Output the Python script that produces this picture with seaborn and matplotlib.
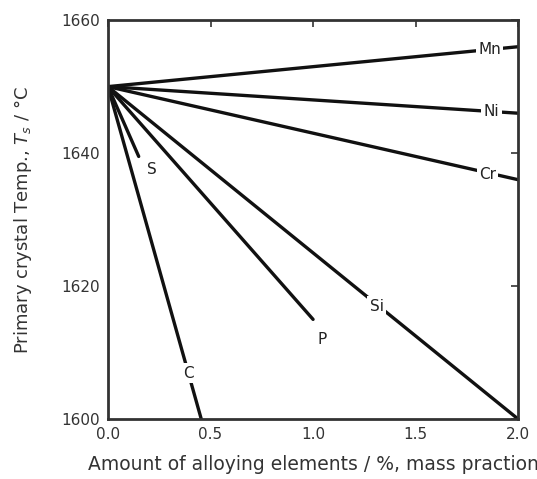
import matplotlib
matplotlib.use("Agg")
import matplotlib.pyplot as plt
import seaborn as sns
import pandas as pd

elements = ["Mn", "Ni", "Cr", "Si", "P", "S", "C"]
x_start = [0.0, 0.0, 0.0, 0.0, 0.0, 0.0, 0.0]
y_start = [1650, 1650, 1650, 1650, 1650, 1650, 1650]
x_end = [2.0, 2.0, 2.0, 2.0, 1.0, 0.15, 0.455]
y_end = [1656, 1646, 1636, 1600, 1615, 1639.5, 1600]
label_x = [1.86, 1.87, 1.85, 1.31, 1.045, 0.215, 0.39]
label_y = [1655.6, 1646.3, 1636.8, 1617.0, 1612.0, 1637.5, 1606.9]
x_ticks = [0.0, 0.5, 1.0, 1.5, 2.0]
x_ticklabels = ["0.0", "0.5", "1.0", "1.5", "2.0"]
y_ticks = [1600, 1620, 1640, 1660]

rows = []
for e, xs, ys, xe, ye in zip(elements, x_start, y_start, x_end, y_end):
    rows.append({"element": e, "x": xs, "y": ys})
    rows.append({"element": e, "x": xe, "y": ye})
df = pd.DataFrame(rows)

sns.set_theme(style="white")
plt.rcParams["font.family"] = ["DejaVu Sans"]

fig = plt.figure(figsize=(5.37, 4.79), dpi=100)
ax = fig.add_axes([0.201, 0.125, 0.764, 0.833])

sns.lineplot(data=df, x="x", y="y", hue="element", units="element", estimator=None,
             palette=["#111111"] * len(elements), legend=False, linewidth=2.4, ax=ax,
             sort=False)

for e, lx, ly in zip(elements, label_x, label_y):
    ax.text(lx, ly, e, ha="center", va="center", fontsize=11, color="#222222",
            bbox=dict(boxstyle="square,pad=0.15", fc="white", ec="none"))

ax.set_xlim(0, 2.0)
ax.set_ylim(1600, 1660)
ax.set_xticks(x_ticks)
ax.set_xticklabels(x_ticklabels)
ax.set_yticks(y_ticks)
ax.tick_params(direction="in", length=5, width=1.2, top=True, right=True,
               labelsize=11, colors="#333333", labelcolor="#333333", pad=6)
for s in ax.spines.values():
    s.set_linewidth(2.0)
    s.set_color("#333333")

ax.set_xlabel("Amount of alloying elements / %, mass praction", fontsize=13.5,
              color="#333333", labelpad=9)
ax.set_ylabel(r"Primary crystal Temp., $T_s$ / °C", fontsize=13,
              color="#333333", labelpad=19)

fig.savefig("out.png", dpi=100)
